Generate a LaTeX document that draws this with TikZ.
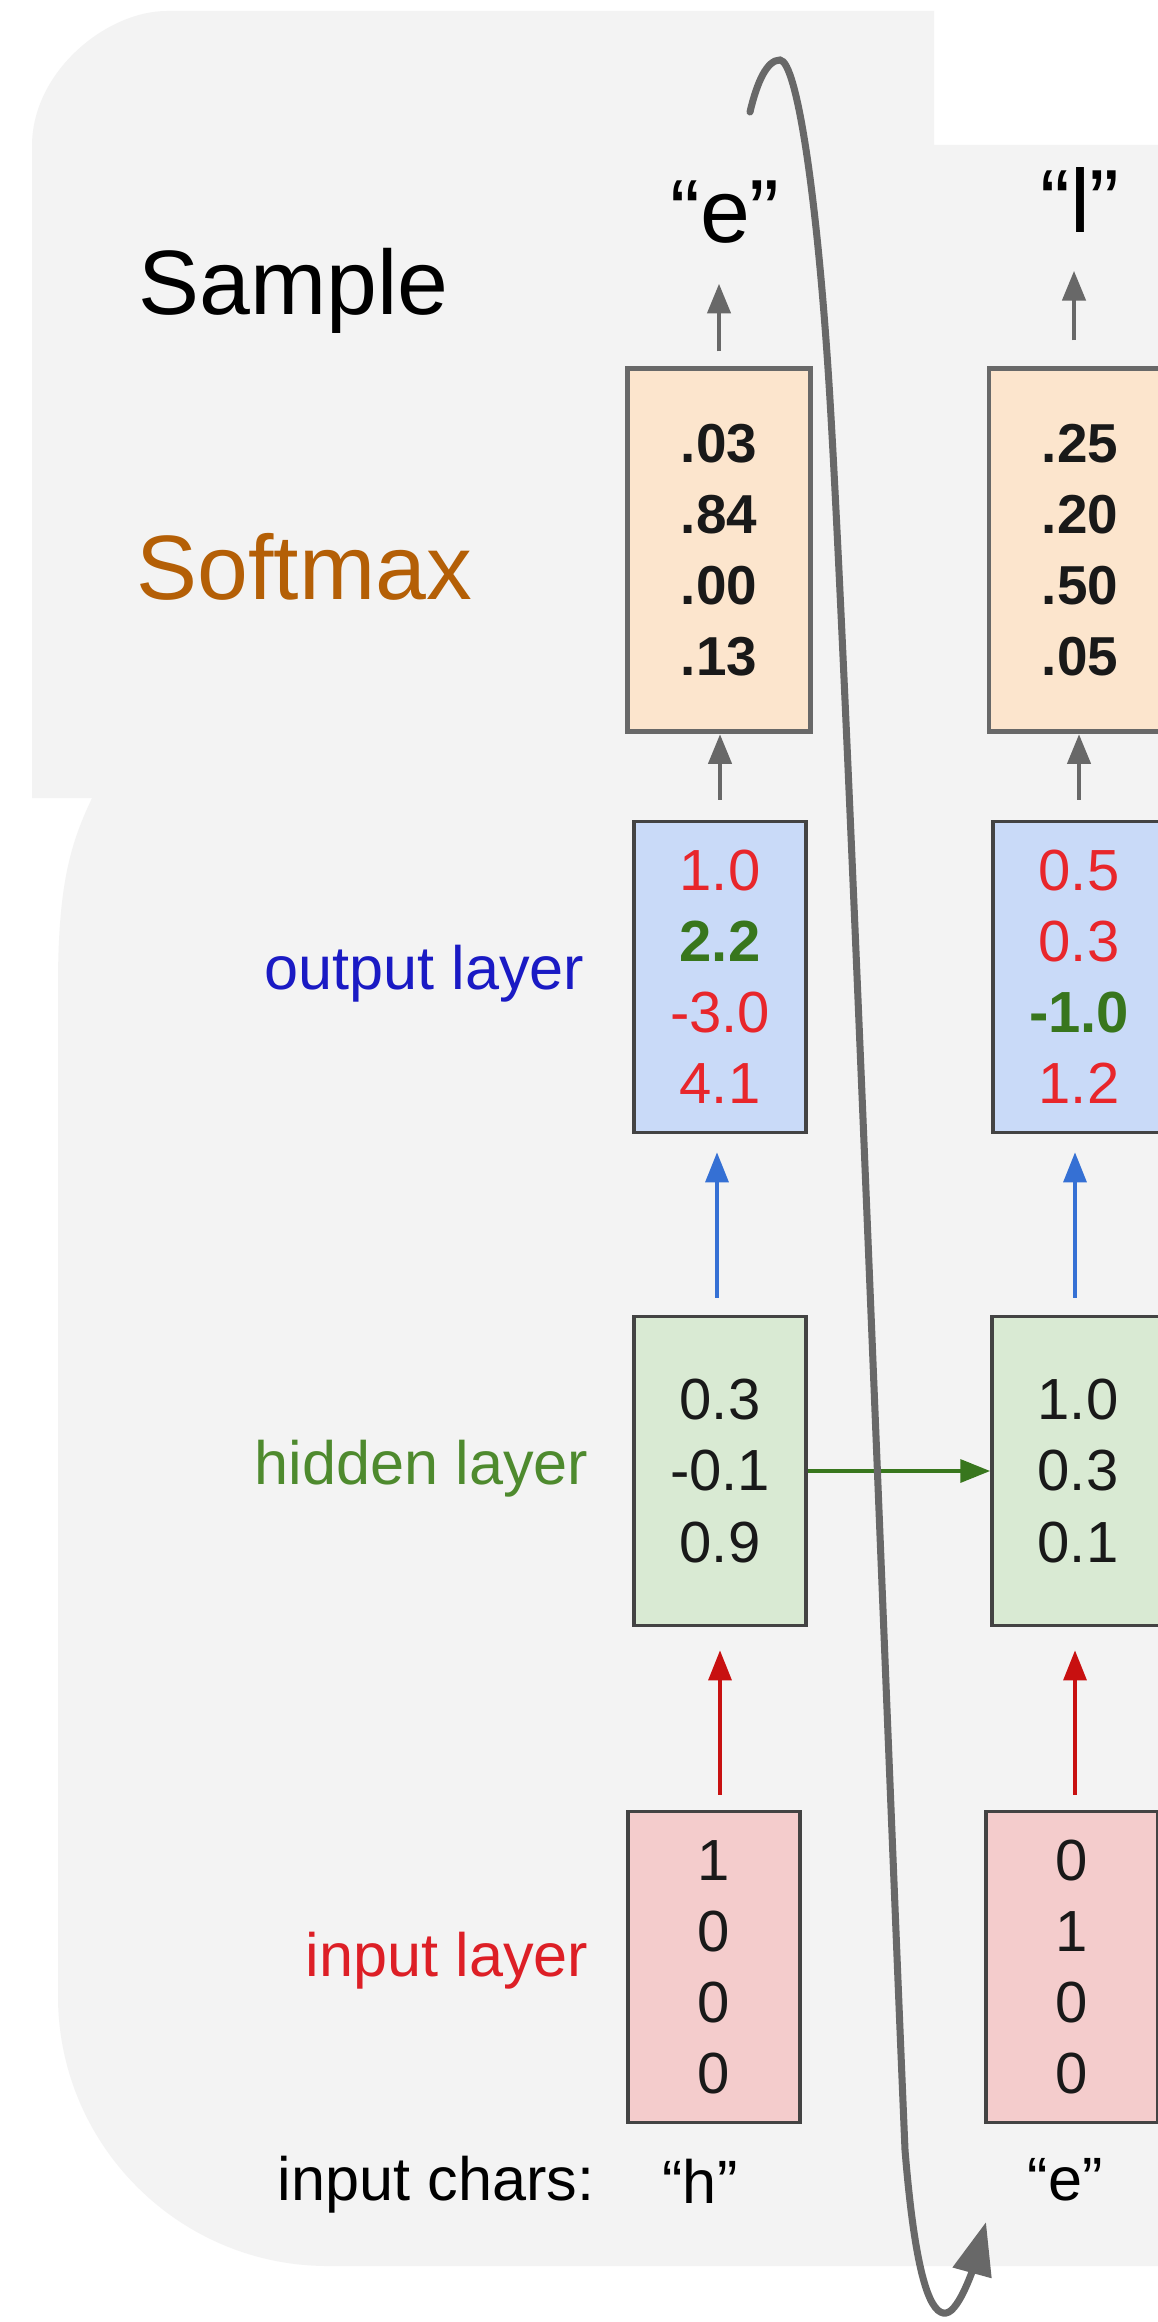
\documentclass[tikz,border=0pt]{standalone}
\usepackage{fontspec}
\setmainfont{Liberation Sans}
\usetikzlibrary{arrows.meta,positioning}
\definecolor{bggray}{HTML}{F3F3F3}
\definecolor{smfill}{HTML}{FCE5CD}
\definecolor{outfill}{HTML}{C9DAF8}
\definecolor{hidfill}{HTML}{D9EAD3}
\definecolor{infill}{HTML}{F4CCCC}
\definecolor{edgegray}{HTML}{686868}
\definecolor{boxedge}{HTML}{434343}
\definecolor{smbrown}{HTML}{B45F06}
\definecolor{outblue}{HTML}{1A1AC4}
\definecolor{hidgreen}{HTML}{4E8A2E}
\definecolor{valgreen}{HTML}{38761D}
\definecolor{valred}{HTML}{E8262B}
\definecolor{inred}{HTML}{DD1F26}
\definecolor{arrblue}{HTML}{3570D4}
\definecolor{arrred}{HTML}{C81010}
\tikzset{
  vecbox/.style={draw=boxedge,line width=1pt,minimum width=1.72cm,minimum height=3.11cm,
    inner sep=0pt,align=center,text=black!90,font=\fontsize{16.5}{20.2}\selectfont},
  smbox/.style={vecbox,fill=smfill,draw=edgegray,line width=1.4pt,minimum width=1.82cm,
    minimum height=3.63cm,font=\fontsize{15.6}{20.2}\selectfont\bfseries},
  outbox/.style={vecbox,fill=outfill},
  hidbox/.style={vecbox,fill=hidfill},
  inbox/.style={vecbox,fill=infill},
  biglbl/.style={font=\fontsize{26}{30}\selectfont,inner sep=0pt},
  qlbl/.style={font=\fontsize{25.5}{30}\selectfont,inner sep=0pt,anchor=base},
  lyrlbl/.style={anchor=base east,inner sep=0pt,font=\fontsize{17.4}{21}\selectfont},
  chrlbl/.style={anchor=base,inner sep=0pt,font=\fontsize{17.4}{21}\selectfont},
  grayarr/.style={-{Triangle[length=8.5pt,width=6.5pt]},line width=1.4pt,edgegray},
  bluearr/.style={-{Triangle[length=8.5pt,width=6.5pt]},line width=1pt,arrblue},
  redarr/.style={-{Triangle[length=8.5pt,width=6.5pt]},line width=1pt,arrred},
  greenarr/.style={-{Triangle[length=8.5pt,width=6.5pt]},line width=1.1pt,valgreen},
  feedback/.style={-{Triangle[length=15pt,width=11pt]},line width=2pt,edgegray,line cap=round},
}
\begin{document}
\begin{tikzpicture}[x=0.01cm,y=-0.01cm]
  % page and grey backdrop
  \useasboundingbox (0,0) rectangle (1158,2322);
  \clip (0,0) rectangle (1158,2322);
  \fill[white] (0,0) rectangle (1158,2322);
  \fill[bggray] (32,798) -- (32,146) .. controls (32,71) and (107,11) .. (167,11)
    -- (934,11) -- (934,145) -- (1170,145) -- (1170,798) -- cycle;
  \fill[bggray] (93,796) .. controls (72,840) and (58,880) .. (58,985)
    -- (58,1996) .. controls (58,2145) and (179,2266) .. (328,2266)
    -- (1170,2266) -- (1170,796) -- cycle;

  % row titles
  \node[biglbl,anchor=base west] (sample) at (138,315) {Sample};
  \node[biglbl,anchor=base west,text=smbrown] (softmax) at (136,600) {Softmax};
  \node[lyrlbl,text=outblue] (outlbl) at (585,989) {output layer};
  \node[lyrlbl,text=hidgreen] (hidlbl) at (589,1484) {hidden layer};
  \node[lyrlbl,text=inred] (inlbl) at (589,1976) {input layer};
  \node[lyrlbl] (charlbl) at (595,2200) {input chars:};

  % first time step
  \node[smbox] (sm1) at (719,550) {.03\\.84\\.00\\.13};
  \node[outbox] (out1) at (720,977) {\textcolor{valred}{1.0}\\\textbf{\textcolor{valgreen}{2.2}}\\
    \textcolor{valred}{-3.0}\\\textcolor{valred}{4.1}};
  \node[hidbox,minimum height=3.09cm] (hid1) at (720,1471) {0.3\\-0.1\\0.9};
  \node[inbox] (in1) at (714,1967) {1\\0\\0\\0};
  \node[qlbl] (smp1) at (725,243) {“e”};
  \node[chrlbl] (chr1) at (700,2203) {“h”};

  % second time step
  \node[smbox] (sm2) at (1080,550) {.25\\.20\\.50\\.05};
  \node[outbox] (out2) at (1079,977) {\textcolor{valred}{0.5}\\\textcolor{valred}{0.3}\\
    \textbf{\textcolor{valgreen}{-1.0}}\\\textcolor{valred}{1.2}};
  \node[hidbox,minimum height=3.09cm] (hid2) at (1078,1471) {1.0\\0.3\\0.1};
  \node[inbox] (in2) at (1072,1967) {0\\1\\0\\0};
  \node[qlbl] (smp2) at (1080,233) {“l”};
  \node[chrlbl] (chr2) at (1065,2200) {“e”};

  % upward connectors
  \draw[grayarr,shorten <=0.145cm,shorten >=0.39cm] (sm1.north) -- (sm1.north |- smp1.south);
  \draw[grayarr,shorten <=0.255cm,shorten >=0.37cm] ([xshift=-0.06cm]sm2.north) -- ([xshift=-0.06cm]sm2.north |- smp2.south);
  \draw[grayarr,shorten <=0.2cm] (out1.north) -- (out1.north |- sm1.south);
  \draw[grayarr,shorten <=0.2cm] (out2.north) -- (out2.north |- sm2.south);
  \draw[bluearr,shorten <=0.17cm,shorten >=0.18cm] ([xshift=-0.03cm]hid1.north) -- ([xshift=-0.03cm]hid1.north |- out1.south);
  \draw[bluearr,shorten <=0.17cm,shorten >=0.18cm] ([xshift=-0.03cm]hid2.north) -- ([xshift=-0.03cm]hid2.north |- out2.south);
  \draw[redarr,shorten <=0.15cm,shorten >=0.23cm] (hid1.south |- in1.north) -- (hid1.south);
  \draw[redarr,shorten <=0.15cm,shorten >=0.23cm] ([xshift=-0.03cm]hid2.south |- in2.north) -- ([xshift=-0.03cm]hid2.south);
  % recurrence
  \draw[greenarr] (hid1) -- (hid2);

  % sampled char fed back as next input
  \coordinate (fbstart) at (750,112);
  \coordinate (fbtip) at (986,2222);
  \draw[feedback] (fbstart) .. controls (757,82) and (767,60) .. (780,60)
    .. controls (797,61) and (818,200) .. (830,400)
    .. controls (848,700) and (886,1700) .. (905,2150)
    .. controls (916,2285) and (932,2315) .. (946,2313)
    .. controls (960,2311) and (975,2262) .. (fbtip);
\end{tikzpicture}
\end{document}
